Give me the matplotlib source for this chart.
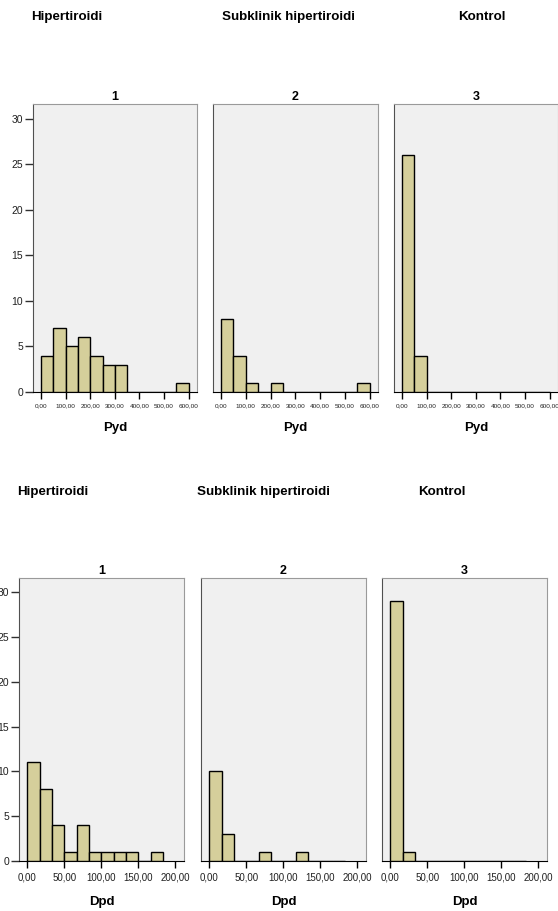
import matplotlib
matplotlib.use("Agg")
import matplotlib.pyplot as plt
import numpy as np

plt.rcParams["font.family"] = ["Liberation Sans", "DejaVu Sans"]

# group headers and panel titles
groups = ["Hipertiroidi", "Subklinik hipertiroidi", "Kontrol"]
panel_titles = ["1", "2", "3"]

# Pyd histograms, bins of 50 from 0 to 600
pyd_bin = 50
pyd_counts = [
    [4, 7, 5, 6, 4, 3, 3, 0, 0, 0, 0, 1],
    [8, 4, 1, 0, 1, 0, 0, 0, 0, 0, 0, 1],
    [26, 4, 0, 0, 0, 0, 0, 0, 0, 0, 0, 0],
]
pyd_ticks = [0, 100, 200, 300, 400, 500, 600]

# Dpd histograms, 11 bins of 200/12 from 0
dpd_bin = 200 / 12
dpd_counts = [
    [11, 8, 4, 1, 4, 1, 1, 1, 1, 0, 1],
    [10, 3, 0, 0, 1, 0, 0, 1, 0, 0, 0],
    [29, 1, 0, 0, 0, 0, 0, 0, 0, 0, 0],
]
dpd_ticks = [0, 50, 100, 150, 200]

y_ticks = [0, 5, 10, 15, 20, 25, 30]

W, H = 558, 911
fig = plt.figure(figsize=(W / 100, H / 100), dpi=100)

bar_color = "#d5cf9b"
bg = "#f0f0f0"


def fmt(v):
    return f"{v:.2f}".replace(".", ",")


def panel(left, right, top, bottom, counts, bw, ticks, xlim, tick_fs, xlabel, title, show_y):
    ax = fig.add_axes([left / W, 1 - bottom / H, (right - left) / W, (bottom - top) / H])
    ax.set_facecolor(bg)
    edges = np.arange(len(counts)) * bw
    ax.bar(edges, counts, width=bw, align="edge", color=bar_color,
           edgecolor="black", linewidth=1.0, zorder=3)
    ax.set_xlim(*xlim)
    ax.set_ylim(0, 31.6)
    ax.set_xticks(ticks)
    ax.set_xticklabels([fmt(t) for t in ticks], fontsize=tick_fs, color="#202020")
    ax.tick_params(axis="x", length=5, width=1, color="black", pad=3)
    if show_y:
        ax.set_yticks(y_ticks)
        ax.set_yticklabels([str(t) for t in y_ticks], fontsize=7.5, color="#202020")
        ax.tick_params(axis="y", length=6, width=1, color="#303030", pad=1)
    else:
        ax.set_yticks([])
    for s in ["top", "right"]:
        ax.spines[s].set_color("#9a9a9a")
    ax.spines["left"].set_color("#505050")
    ax.spines["bottom"].set_color("black")
    ax.set_title(title, fontsize=9, fontweight="bold", pad=3)
    ax.set_xlabel(xlabel, fontsize=9.5, fontweight="bold", labelpad=10)
    return ax


# top row (Pyd)
top_x = [(33, 197), (213, 378), (394, 558)]
for i in range(3):
    l, r = top_x[i]
    panel(l, r, 104, 392, pyd_counts[i], pyd_bin, pyd_ticks, (-32.5, 634), 4.6,
          "Pyd", panel_titles[i], i == 0)

# bottom row (Dpd)
bot_x = [(19, 184), (201, 366), (382, 547)]
for i in range(3):
    l, r = bot_x[i]
    panel(l, r, 578, 861, dpd_counts[i], dpd_bin, dpd_ticks, (-11.3, 211.6), 7,
          "Dpd", panel_titles[i], i == 0)

# group headers
top_hdr_x = [31, 222, 458]
bot_hdr_x = [17, 197, 418]
for i, g in enumerate(groups):
    fig.text(top_hdr_x[i] / W, 1 - 17 / H, g, fontsize=9.6, fontweight="bold",
             ha="left", va="center")
    fig.text(bot_hdr_x[i] / W, 1 - 492 / H, g, fontsize=9.6, fontweight="bold",
             ha="left", va="center")

fig.savefig("out.png", dpi=100)
